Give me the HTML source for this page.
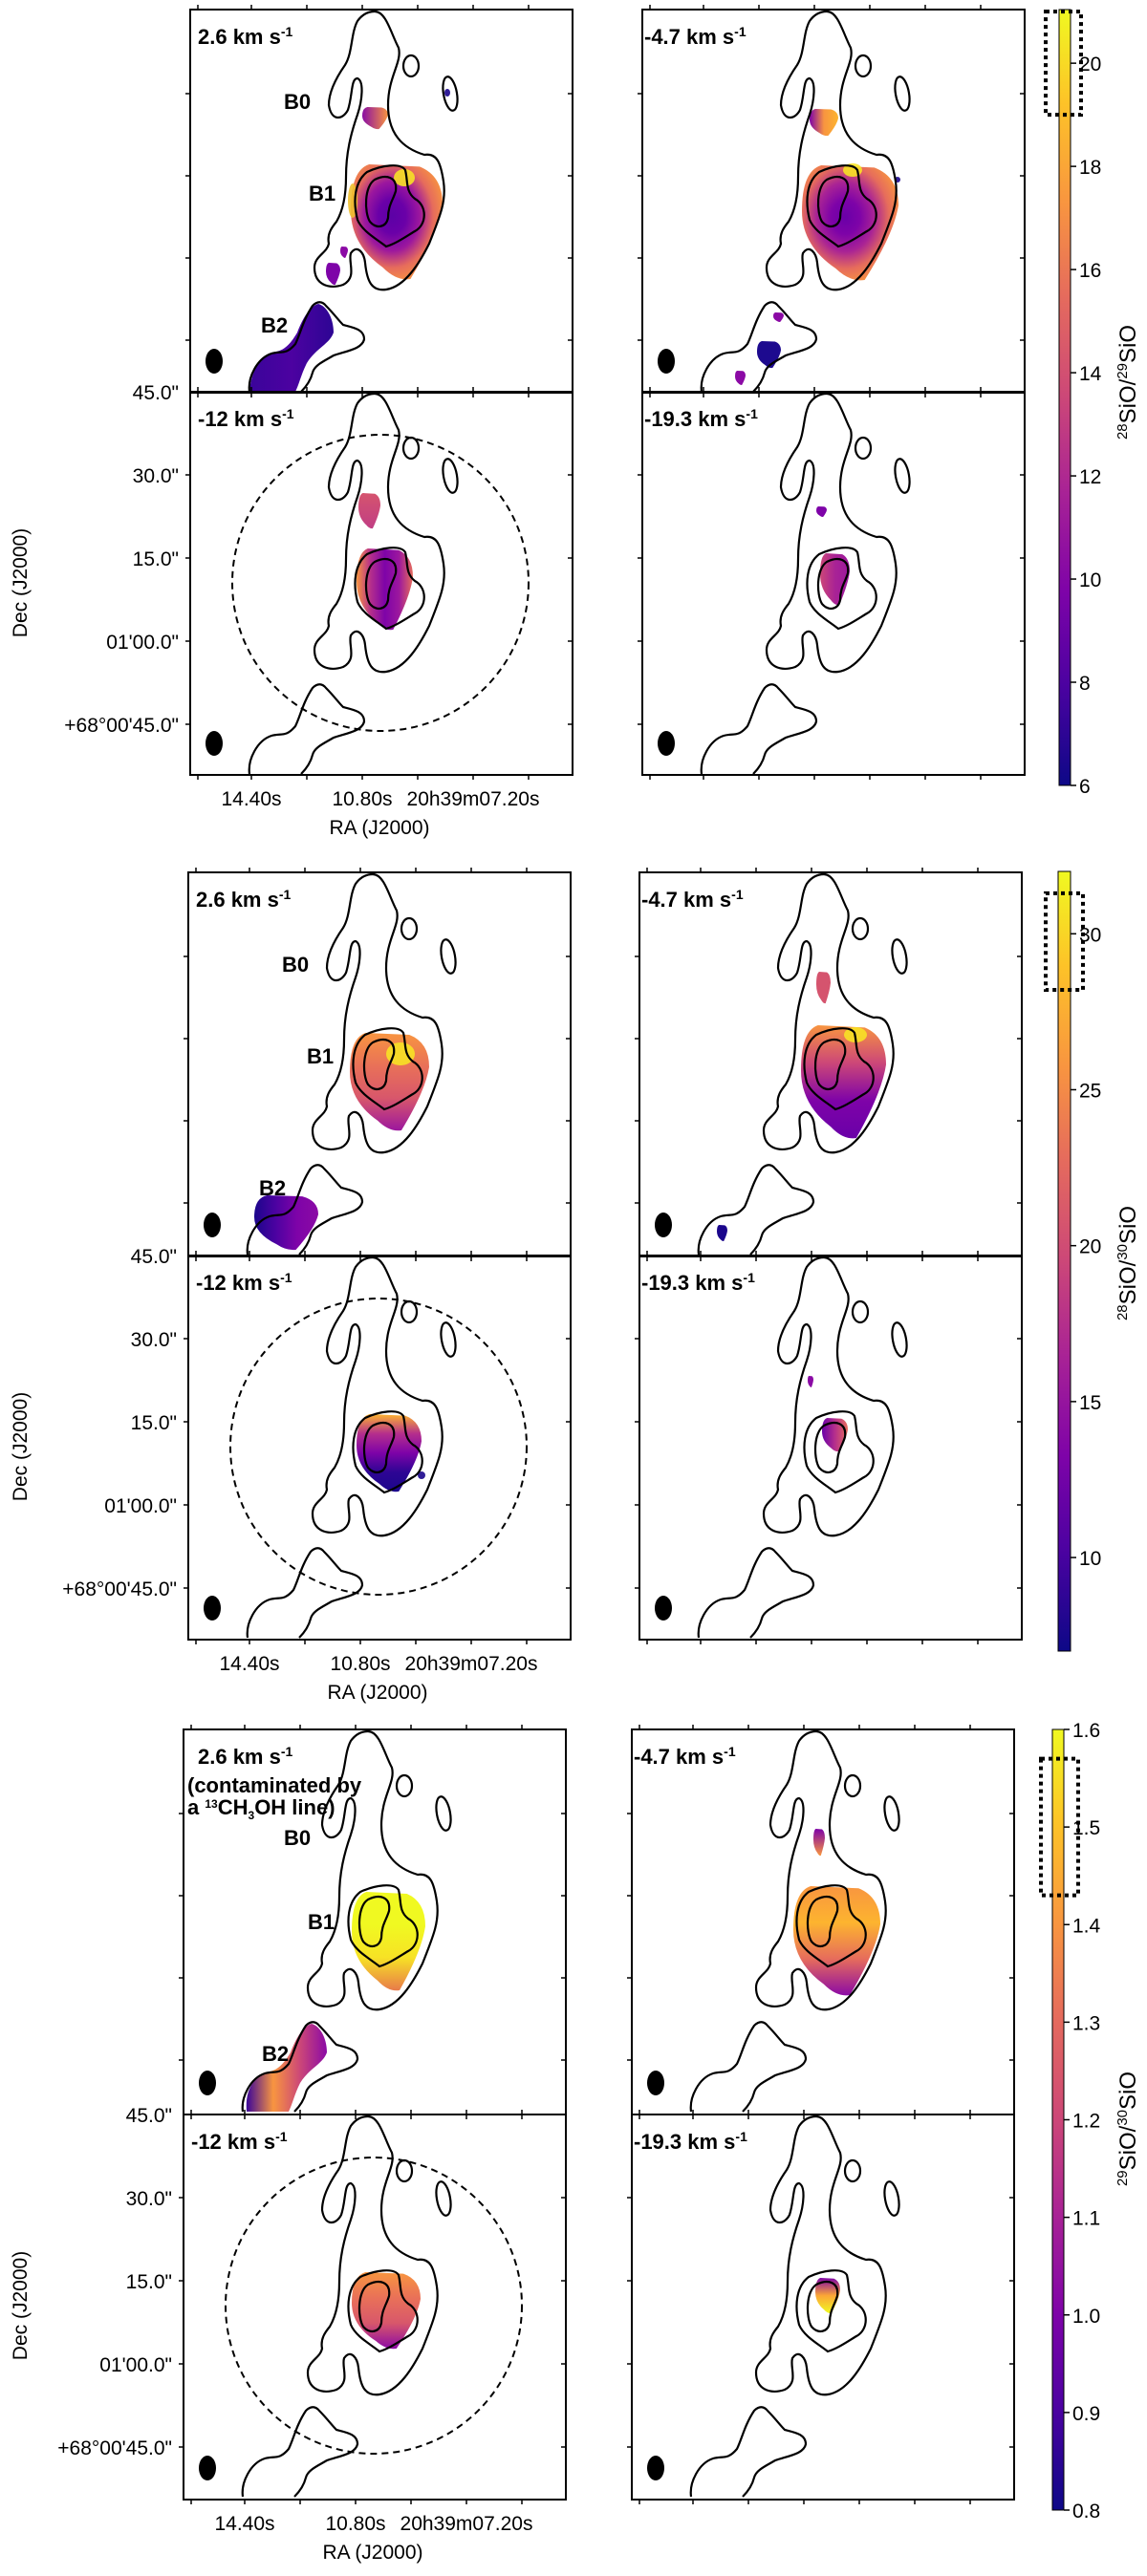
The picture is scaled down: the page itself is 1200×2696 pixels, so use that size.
<!DOCTYPE html>
<html><head><meta charset="utf-8"><title>SiO isotopologue ratio maps</title>
<style>
html,body{margin:0;padding:0;background:#fff;}
svg{display:block;font-family:"Liberation Sans",sans-serif;}
.ttl{font-weight:bold;font-size:22px;}
.tk{font-size:21px;}
</style></head>
<body>
<svg id="fig" xmlns="http://www.w3.org/2000/svg" width="1200" height="2696" viewBox="0 0 1200 2696">
<defs>
<linearGradient id="plasma" x1="0" y1="1" x2="0" y2="0">
<stop offset="0" stop-color="#0d0887"/><stop offset="0.13" stop-color="#4c02a1"/><stop offset="0.25" stop-color="#7e03a8"/><stop offset="0.38" stop-color="#a92395"/><stop offset="0.5" stop-color="#cc4778"/><stop offset="0.63" stop-color="#e56b5d"/><stop offset="0.75" stop-color="#f89540"/><stop offset="0.88" stop-color="#fdc328"/><stop offset="1" stop-color="#f0f921"/>
</linearGradient>
<g id="contour" fill="none" stroke="#000" stroke-width="2.2">
<path d="M193,2 C205,2 210,25 218,40 C222,55 207,70 207,100 C207,130 222,145 245,152 C258,150 262,160 265,180 C268,200 262,215 250,245 C240,265 225,290 205,293 C190,295 185,285 183,265 C182,255 175,245 168,255 C165,265 175,280 160,288 C145,293 130,288 130,270 C130,258 143,255 145,245 C143,235 148,228 153,222 C160,210 163,195 163,175 C163,150 168,130 175,110 C180,95 182,75 175,72 C168,72 170,90 165,105 C160,115 148,118 145,100 C145,85 155,68 162,58 C170,45 168,25 175,12 C180,5 186,2 193,2 Z"/>
<ellipse cx="231" cy="59" rx="8" ry="11"/>
<ellipse cx="272" cy="88" rx="7" ry="18" transform="rotate(-10 272 88)"/>
<path d="M185,170 C200,163 220,160 225,168 C228,180 225,190 235,198 C248,205 248,225 235,232 C225,238 215,245 205,248 C195,240 180,232 175,220 C170,200 172,180 185,170 Z"/>
<path d="M193,178 C205,172 217,175 215,190 C212,200 207,205 207,218 C205,228 195,230 188,222 C182,212 182,185 193,178 Z"/>
<path d="M62,400 C60,385 70,365 85,360 C95,357 100,362 110,350 C115,340 118,325 128,310 C133,305 138,305 142,310 C150,318 155,325 160,330 C172,333 182,335 182,345 C180,355 165,357 150,362 C140,368 130,372 128,380 C126,388 122,394 116,400"/>
</g>
</defs>
</svg>
<script>
// ---- colour-bar data ----
const cb1Ticks = [6, 8, 10, 12, 14, 16, 18, 20];
const cb1Range = [6, 21.04];
const cb2Ticks = [10, 15, 20, 25, 30];
const cb2Range = [7, 32];
const cb3Ticks = [0.8, 0.9, 1.0, 1.1, 1.2, 1.3, 1.4, 1.5, 1.6];
const cb3Range = [0.8, 1.6];
const cb1Labels = ["6", "8", "10", "12", "14", "16", "18", "20"];
const cb2Labels = ["10", "15", "20", "25", "30"];
const cb3Labels = ["0.8", "0.9", "1.0", "1.1", "1.2", "1.3", "1.4", "1.5", "1.6"];
const cb1Box = [19.0, 21.0];
const cb2Box = [28.2, 31.3];
const cb3Box = [1.43, 1.57];
const velocities = ["2.6", "-4.7", "-12", "-19.3"];
const decLabels = ["45.0\"", "30.0\"", "15.0\"", "01'00.0\"", "+68°00'45.0\""];
const raLabels = ["14.40s", "10.80s", "20h39m07.20s"];

const NS = "http://www.w3.org/2000/svg";
const svg = document.getElementById("fig");
function mk(tag, attrs, parent) {
  const e = document.createElementNS(NS, tag);
  for (const k in attrs) e.setAttribute(k, attrs[k]);
  (parent || svg).appendChild(e);
  return e;
}
let gid = 0;
function grad(colors, dir) {
  const defs = svg.querySelector("defs");
  const id = "g" + (gid++);
  let g;
  if (dir === "r") g = mk("radialGradient", {id: id, cx: "0.45", cy: "0.45", r: "0.6"}, defs);
  else if (dir === "h") g = mk("linearGradient", {id: id, x1: 0, y1: 0, x2: 1, y2: 0}, defs);
  else g = mk("linearGradient", {id: id, x1: 0, y1: 0, x2: 0, y2: 1}, defs);
  colors.forEach((c, i) => mk("stop", {offset: colors.length > 1 ? i / (colors.length - 1) : 0, "stop-color": c}, g));
  return "url(#" + id + ")";
}
function blobPath(b) {
  const [x1, y1, x2, y2] = b, w = x2 - x1, h = y2 - y1;
  return `M${x1+0.2*w},${y1} L${x1+0.75*w},${y1+0.02*h} Q${x2},${y1+0.1*h} ${x2},${y1+0.35*h} Q${x2-0.05*w},${y1+0.6*h} ${x1+0.65*w},${y2} Q${x1+0.5*w},${y2+0.02*h} ${x1+0.35*w},${y2-0.1*h} Q${x1},${y1+0.7*h} ${x1},${y1+0.4*h} Q${x1},${y1+0.05*h} ${x1+0.2*w},${y1} Z`;
}
const B2poly = "M62,400 C64,375 75,362 90,358 C100,356 106,348 112,338 C118,322 126,310 134,308 C142,310 150,322 150,338 C146,350 132,354 122,370 C116,382 114,392 110,400 Z";

// panel blob content: [kind, box/params, colors, dir]
const blobs = {
  "0-0": [["b",[180,102,207,125],["#8a0da4","#f89540"],"h"],["b",[168,162,264,282],["#5c01a6","#6a00a8","#9c179e","#e66c5c","#f89540"],"r"],["e",[224,176,11,9],["#f7e225"]],["e",[170,200,5,18],["#f0c030"]],["b",[157,248,165,260],["#8b0aa5"],"v"],["b",[142,265,157,288],["#7e03a8"],"v"],["p",B2poly,["#3a049a","#4c02a1","#2d0594"],"h"],["e",[269,87,3,4],["#1b068c"]]],
  "0-1": [["b",[175,104,205,132],["#7e03a8","#f89540","#fdb42f"],"h"],["b",[167,163,268,283],["#6a00a8","#7e03a8","#a92395","#e66c5c","#f89540"],"r"],["e",[220,168,10,7],["#f7e225"]],["b",[137,317,148,327],["#8b0aa5"],"v"],["b",[120,347,145,375],["#1d0a8f"],"v"],["b",[97,378,108,393],["#8b0aa5"],"v"],["e",[267,178,3,3],["#1b068c"]]],
  "0-2": [["b",[176,106,199,143],["#d5546e","#c13e84"],"v"],["b",[174,164,233,249],["#f89540","#b52f8c","#7e03a8","#9c179e","#e66c5c"],"h"]],
  "0-3": [["b",[182,120,193,131],["#7e03a8"],"v"],["b",[186,169,217,223],["#cc4778","#a92395","#9c179e"],"h"]],
  "1-0": [["b",[169,168,252,270],["#f89540","#e97158","#d8576b","#9c179e"],"v"],["e",[222,190,15,12],["#f7e225"]],["b",[69,338,136,395],["#1b068c","#4c02a1","#7e03a8","#8b0aa5"],"h"]],
  "1-1": [["b",[185,104,200,137],["#d5546e"],"v"],["b",[169,160,258,278],["#f89540","#cc4778","#7e03a8","#6a00a8"],"v"],["e",[226,170,12,8],["#f7e225"]],["b",[81,369,92,386],["#1b068c"],"v"]],
  "1-2": [["b",[176,166,244,247],["#fdb42f","#b52f8c","#7e03a8","#2d0594","#1b068c"],"v"],["e",[244,230,4,4],["#1b068c"]]],
  "1-3": [["b",[191,170,218,205],["#6a00a8","#b52f8c","#e66c5c"],"h"],["b",[176,126,182,138],["#8b0aa5"],"v"]],
  "2-0": [["b",[176,170,253,273],["#f0f921","#f0f921","#f7e225","#e87a4a"],"v"],["p",B2poly.replace("M62,400","M66,400"),["#3a049a","#f89540","#cc4778","#8b0aa5"],"h"]],
  "2-1": [["b",[190,104,202,132],["#7e03a8","#f89540"],"v"],["b",[169,164,260,278],["#f89540","#fdb42f","#e66c5c","#8b0aa5"],"v"]],
  "2-2": [["b",[176,165,248,245],["#f89540","#e97158","#d8576b","#8b0aa5"],"v"]],
  "2-3": [["b",[192,171,218,208],["#7e03a8","#fca636","#f0f921"],"v"]]
};

const blocks = [
  {cols:[199,672], rows:[10,410], h:401, cb:{x:1108,w:12,y0:10,y1:822,range:cb1Range,ticks:cb1Ticks,labels:cb1Labels,box:cb1Box,bx:[1094,1131],lab:["28","29"],ly:400}},
  {cols:[197,669], rows:[913,1314], h:402, cb:{x:1107,w:13,y0:912,y1:1728,range:cb2Range,ticks:cb2Ticks,labels:cb2Labels,box:cb2Box,bx:[1094,1133],lab:["28","30"],ly:1322}},
  {cols:[192,661], rows:[1810,2213], h:403, cb:{x:1101,w:12,y0:1810,y1:2627,range:cb3Range,ticks:cb3Ticks,labels:cb3Labels,box:cb3Box,bx:[1089,1128],lab:["29","30"],ly:2228}}
];

const xTickLocal = [8, 64, 122, 180, 238, 296, 354];
const yTickTop = [88, 174, 260, 346];
const yTickBot = [87, 174, 261, 348];

blocks.forEach((bk, bi) => {
  for (let r = 0; r < 2; r++) for (let c = 0; c < 2; c++) {
    const px = bk.cols[c], py = bk.rows[r], idx = r * 2 + c;
    const g = mk("g", {transform: `translate(${px},${py})`});
    
    
    const clip = mk("clipPath", {id: `clip${bi}${idx}`}, svg.querySelector("defs"));
    mk("rect", {x: 0, y: 0, width: 400, height: bk.h}, clip);
    const inner = mk("g", {"clip-path": `url(#clip${bi}${idx})`}, g);
    (blobs[bi + "-" + idx] || []).forEach(b => {
      let e;
      const fill = b[2].length > 1 ? grad(b[2], b[3]) : b[2][0];
      if (b[0] === "b") e = mk("path", {d: blobPath(b[1]), fill: fill}, inner);
      else if (b[0] === "p") e = mk("path", {d: b[1], fill: fill}, inner);
      else e = mk("ellipse", {cx: b[1][0], cy: b[1][1], rx: b[1][2], ry: b[1][3], fill: fill, opacity: 0.9}, inner);
      
      
    });
    const u = mk("use", {href: "#contour"}, inner);
    
    
    if (c === 0 && r === 1) {
      const dc = mk("circle", {cx: 199, cy: 200, r: 155, fill: "none", stroke: "#000", "stroke-width": 2, "stroke-dasharray": "7,5"}, inner);
      
      
    }
    const beam = mk("ellipse", {cx: 25, cy: bk.h - 33, rx: 9, ry: 13, fill: "#000"}, g);
    
    
    const fr = mk("rect", {x: 0, y: 0, width: 400, height: bk.h, fill: "none", stroke: "#000", "stroke-width": 2}, g);
    
    
    xTickLocal.forEach(t => {
      mk("line", {x1: t, y1: 0, x2: t, y2: -5, stroke: "#000", "stroke-width": 1.5}, g);
      mk("line", {x1: t, y1: bk.h, x2: t, y2: bk.h + 5, stroke: "#000", "stroke-width": 1.5}, g);
    });
    (r === 0 ? yTickTop : yTickBot).forEach(t => {
      mk("line", {x1: 0, y1: t, x2: -5, y2: t, stroke: "#000", "stroke-width": 1.5}, g);
      mk("line", {x1: 400, y1: t, x2: 395, y2: t, stroke: "#000", "stroke-width": 1.5}, g);
    });
    const tx = (bi === 2 && idx === 0) ? 15 : (idx === 1 || idx === 3 ? 2 : 8);
    const t = mk("text", {x: tx, y: 36, class: "ttl"}, g);
    
    
    t.textContent = velocities[idx] + " km s";
    const sup = mk("tspan", {dy: -8, "font-size": 14}, t);
    sup.textContent = "-1";
    if (idx === 0) {
      const lblY = bi === 2 ? [113, 201, 339] : [96, 192, 330];
      const lblX = bi === 2 ? [105, 130, 82] : [98, 124, 74];
      ["B0", "B1", "B2"].forEach((s, k) => {
        const bt = mk("text", {x: lblX[k], y: lblY[k] + 8, class: "ttl", "font-size": 24}, g);
        
        
        bt.textContent = s;
      });
      if (bi === 2) {
        const n1 = mk("text", {x: 4, y: 66, class: "ttl", "font-size": 19}, g);
        
        
        n1.textContent = "(contaminated  by";
        const n2 = mk("text", {x: 4, y: 89, class: "ttl", "font-size": 19}, g);
        
        
        n2.textContent = "a ";
        const s1 = mk("tspan", {dy: -7, "font-size": 12}, n2); s1.textContent = "13";
        const s2 = mk("tspan", {dy: 7}, n2); s2.textContent = "CH";
        const s3 = mk("tspan", {dy: 5, "font-size": 12}, n2); s3.textContent = "3";
        const s4 = mk("tspan", {dy: -5}, n2); s4.textContent = "OH line)";
      }
    }
  }
  // axis labels for bottom-left panel
  const lx = bk.cols[0], bot = bk.rows[1] + bk.h;
  decLabels.forEach((s, k) => {
    const y = bk.rows[1] + (k === 0 ? 0 : yTickBot[k - 1]);
    const e = mk("text", {x: lx - 12, y: y + 8, "text-anchor": "end", class: "tk"});
    
    
    e.textContent = s;
  });
  [64, 180, 296].forEach((t, k) => {
    const e = mk("text", {x: lx + t, y: bot + 32, "text-anchor": "middle", class: "tk"});
    
    
    e.textContent = raLabels[k];
  });
  const ra = mk("text", {x: lx + 198, y: bot + 62, "text-anchor": "middle", class: "tk"});
  
  
  ra.textContent = "RA (J2000)";
  const dy = bk.rows[1] + 200;
  const de = mk("text", {x: 0, y: 0, transform: `translate(28,${dy}) rotate(-90)`, "text-anchor": "middle", class: "tk"});
  
  
  de.textContent = "Dec (J2000)";

  // colour bar
  const cb = bk.cb;
  const sc = v => cb.y1 - (v - cb.range[0]) / (cb.range[1] - cb.range[0]) * (cb.y1 - cb.y0);
  const bar = mk("rect", {x: cb.x, y: cb.y0, width: cb.w, height: cb.y1 - cb.y0, fill: "url(#plasma)", stroke: "#000", "stroke-width": 1});
  
  
  cb.ticks.forEach((v, k) => {
    const y = sc(v);
    mk("line", {x1: cb.x + cb.w, y1: y, x2: cb.x + cb.w + 6, y2: y, stroke: "#000", "stroke-width": 1.5});
    const e = mk("text", {x: cb.x + cb.w + 9, y: y + 8, class: "tk", "font-size": 22});
    
    
    e.textContent = cb.labels[k];
  });
  const bx = mk("rect", {x: cb.bx[0], y: sc(cb.box[1]), width: cb.bx[1] - cb.bx[0], height: sc(cb.box[0]) - sc(cb.box[1]), fill: "none", stroke: "#000", "stroke-width": 4, "stroke-dasharray": "4,4"});
  
  
  const cl = mk("text", {x: 0, y: 0, transform: `translate(1188,${cb.ly}) rotate(-90)`, "text-anchor": "middle", "font-size": 24});
  
  
  const a = mk("tspan", {dy: -9, "font-size": 15}, cl); a.textContent = cb.lab[0];
  const b = mk("tspan", {dy: 9}, cl); b.textContent = "SiO/";
  const d = mk("tspan", {dy: -9, "font-size": 15}, cl); d.textContent = cb.lab[1];
  const f = mk("tspan", {dy: 9}, cl); f.textContent = "SiO";
});
</script>
</body></html>
